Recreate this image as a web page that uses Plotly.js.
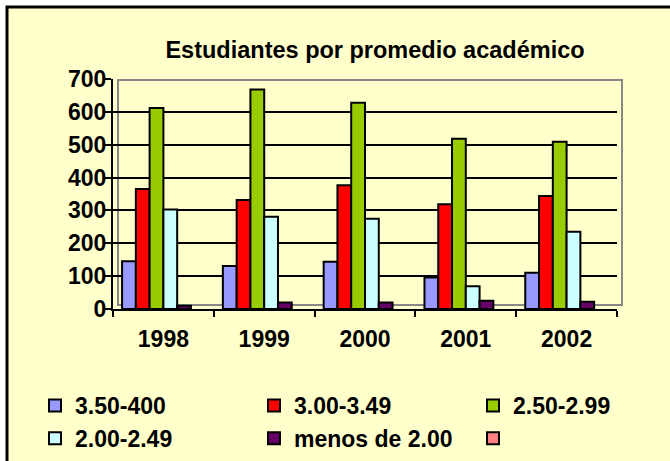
<!DOCTYPE html>
<html>
<head>
<meta charset="utf-8">
<script src="https://cdn.plot.ly/plotly-3.0.1.min.js"></script>
<style>
html,body{margin:0;padding:0;background:#fff;}
#chart{width:670px;height:461px;}
</style>
</head>
<body>
<div id="chart"></div>
<script>
const years = ['1998', '1999', '2000', '2001', '2002'];
const seriesNames = ['3.50-400', '3.00-3.49', '2.50-2.99', '2.00-2.49', 'menos de 2.00', ''];
const s350_400 = [145, 131, 144, 96, 110];
const s300_349 = [365, 332, 377, 319, 344];
const s250_299 = [612, 668, 628, 518, 509];
const s200_249 = [303, 281, 275, 69, 235];
const sMenos200 = [10, 20, 20, 25, 22];
const sBlank = [null, null, null, null, null];
const yTicks = [0, 100, 200, 300, 400, 500, 600, 700];

const allSeries = [s350_400, s300_349, s250_299, s200_249, sMenos200, sBlank];
const colors = ['#9999FF', '#FF0000', '#99CC00', '#CCFFFF', '#660066', '#FF8080'];
const legendOf = ['legend', 'legend2', 'legend3', 'legend', 'legend2', 'legend3'];

const traces = allSeries.map((vals, i) => ({
  type: 'bar',
  x: years,
  y: vals,
  name: seriesNames[i],
  legend: legendOf[i],
  marker: {color: colors[i], line: {color: '#000000', width: 2}},
  hoverinfo: 'x+y+name'
}));

const F = 'Liberation Sans, Arial, sans-serif';
const W = 670, H = 461;
const plotL = 113, plotW = 504, plotB = 309, plotH = 230;
const px2x = p => (p - plotL) / plotW;
const py2y = p => (plotB - p) / plotH;

function leg(cx, cy) {
  return {
    orientation: 'v', x: px2x(cx), y: py2y(cy), xanchor: 'left', yanchor: 'top',
    bgcolor: 'rgba(0,0,0,0)', borderwidth: 0,
    font: {family: F, size: 23, color: '#000', weight: 'bold'},
    itemclick: false, itemdoubleclick: false, traceorder: 'normal'
  };
}

const layout = {
  width: W, height: H,
  margin: {l: plotL, r: W - plotL - plotW, t: plotB - plotH, b: H - plotB, pad: 0, autoexpand: false},
  paper_bgcolor: '#FFFFFF',
  plot_bgcolor: 'rgba(0,0,0,0)',
  barmode: 'group',
  bargap: 0.18,
  bargroupgap: 0,
  showlegend: true,
  title: {
    text: '<b>Estudiantes por promedio académico</b>',
    font: {family: F, size: 23.5, color: '#000'},
    x: px2x(375), xanchor: 'center', xref: 'paper',
    y: 1 - 50 / H, yanchor: 'middle', yref: 'container'
  },
  xaxis: {
    type: 'category',
    tickson: 'boundaries',
    ticks: 'outside', ticklen: 6, tickwidth: 2, tickcolor: '#000',
    showline: true, linecolor: '#000', linewidth: 2,
    showgrid: false, zeroline: false,
    tickfont: {family: F, size: 23, color: '#000', weight: 'bold'},
    ticklabelstandoff: 8
  },
  yaxis: {
    range: [0, 700],
    tickvals: yTicks,
    ticktext: yTicks.map(String),
    ticks: 'outside', ticklen: 6, tickwidth: 2, tickcolor: '#000',
    showline: true, linecolor: '#000', linewidth: 2,
    showgrid: true, gridcolor: '#000', gridwidth: 2,
    zeroline: false,
    tickfont: {family: F, size: 23, color: '#000', weight: 'bold'},
    ticklabelstandoff: -6
  },
  shapes: [
    {type: 'rect', xref: 'paper', yref: 'paper', layer: 'below',
     x0: px2x(7), x1: px2x(760), y0: py2y(520), y1: py2y(7),
     fillcolor: '#FFFFCC', line: {color: '#000', width: 3}},
    {type: 'rect', xref: 'paper', yref: 'paper', layer: 'below',
     x0: px2x(118), x1: px2x(622), y0: py2y(305), y1: py2y(80),
     fillcolor: 'rgba(0,0,0,0)', line: {color: '#888888', width: 2}}
  ],
  legend: leg(35, 384),
  legend2: leg(254, 384),
  legend3: leg(473, 384)
};

Plotly.newPlot('chart', traces, layout, {displayModeBar: false, staticPlot: true});
</script>
</body>
</html>
